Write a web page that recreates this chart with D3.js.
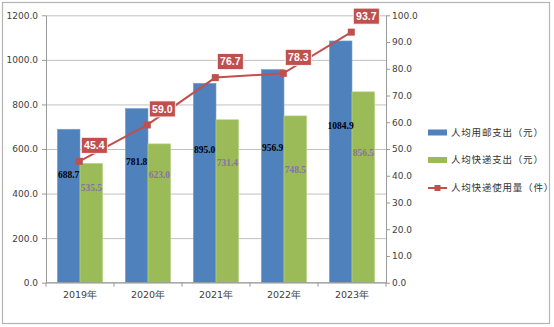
<!DOCTYPE html>
<html>
<head>
<meta charset="utf-8">
<script src="https://cdn.jsdelivr.net/npm/d3@7"></script>
<style>
  body { margin: 0; background: #fff; }
  svg { display: block; }
</style>
</head>
<body>
<svg id="chart" width="554" height="327"></svg>
<script>
// 数据
const years = ["2019年", "2020年", "2021年", "2022年", "2023年"];
const postSpend = [688.7, 781.8, 895.0, 956.9, 1084.9];      // 人均用邮支出（元）
const expressSpend = [535.5, 623.0, 731.4, 748.5, 856.5];   // 人均快递支出（元）
const expressCount = [45.4, 59.0, 76.7, 78.3, 93.7];        // 人均快递使用量（件）
const leftTicks = [0, 200, 400, 600, 800, 1000, 1200];
const rightTicks = [0, 10, 20, 30, 40, 50, 60, 70, 80, 90, 100];
const seriesNames = ["人均用邮支出（元）", "人均快递支出（元）", "人均快递使用量（件）"];

// 柱内数值标签的放置高度（左轴数值）
const postLabelAt = [485, 545, 595, 605, 705];
const expressLabelAt = [425, 485, 540, 505, 585];

const blue = "#4f81bd", green = "#9bbb59", red = "#c0504d";
const axisFont = "DejaVu Sans, sans-serif";

const svg = d3.select("#chart");

// 外框
svg.append("rect")
  .attr("x", 2.5).attr("y", 2.5)
  .attr("width", 547).attr("height", 321)
  .attr("fill", "#fff")
  .attr("stroke", "#b4b4b4")
  .attr("stroke-width", 1.2);

const plotLeft = 46, plotRight = 386, plotTop = 15.3, plotBottom = 282.7;

const x0 = d3.scaleBand().domain(years).range([plotLeft, plotRight]);
const x1 = d3.scaleBand().domain(["post", "express"])
  .range([0, x0.bandwidth()]).paddingOuter(0.5);
const y = d3.scaleLinear().domain([0, 1200]).range([plotBottom, plotTop]);
const y2 = d3.scaleLinear().domain([0, 100]).range([plotBottom, plotTop]);

// 网格线
svg.append("g")
  .attr("transform", `translate(${plotLeft},0)`)
  .call(d3.axisLeft(y).tickValues(leftTicks).tickSize(-(plotRight - plotLeft)).tickFormat(""))
  .call(g => g.select(".domain").remove())
  .call(g => g.selectAll("line").attr("stroke", "#c0c0c0").attr("stroke-width", 1));

// 柱子
const groups = svg.append("g").selectAll("g")
  .data(years)
  .join("g")
  .attr("transform", d => `translate(${x0(d)},0)`);

groups.append("rect")
  .attr("x", x1("post"))
  .attr("width", x1.bandwidth())
  .attr("y", (d, i) => y(postSpend[i]))
  .attr("height", (d, i) => y(0) - y(postSpend[i]))
  .attr("fill", blue)
  .attr("stroke", "#7da2d2").attr("stroke-width", 0.6);

groups.append("rect")
  .attr("x", x1("express"))
  .attr("width", x1.bandwidth())
  .attr("y", (d, i) => y(expressSpend[i]))
  .attr("height", (d, i) => y(0) - y(expressSpend[i]))
  .attr("fill", green)
  .attr("stroke", "#bcd48e").attr("stroke-width", 0.6);

// 柱内数值
groups.append("text")
  .attr("x", x1("post") + x1.bandwidth() / 2)
  .attr("y", (d, i) => y(postLabelAt[i]))
  .attr("dy", "0.35em")
  .attr("text-anchor", "middle")
  .attr("font-family", "Liberation Serif, serif")
  .attr("font-weight", "bold")
  .attr("font-size", 9.5)
  .attr("fill", "#000")
  .text((d, i) => postSpend[i].toFixed(1));

groups.append("text")
  .attr("x", x1("express") + x1.bandwidth() / 2)
  .attr("y", (d, i) => y(expressLabelAt[i]))
  .attr("dy", "0.35em")
  .attr("text-anchor", "middle")
  .attr("font-family", "Liberation Serif, serif")
  .attr("font-weight", "bold")
  .attr("font-size", 9.5)
  .attr("fill", "#8672a6")
  .text((d, i) => expressSpend[i].toFixed(1));

// 坐标轴
function styleAxis(g) {
  g.select(".domain").attr("stroke", "#9a9a9a");
  g.selectAll(".tick line").attr("stroke", "#9a9a9a");
  g.selectAll(".tick text")
    .attr("fill", "#404040")
    .attr("font-family", axisFont)
    .attr("font-size", 9);
}

svg.append("g")
  .attr("transform", `translate(${plotLeft},0)`)
  .call(d3.axisLeft(y).tickValues(leftTicks).tickSize(4).tickSizeOuter(0)
    .tickPadding(4).tickFormat(d3.format(".1f")))
  .call(styleAxis);

svg.append("g")
  .attr("transform", `translate(${plotRight},0)`)
  .call(d3.axisRight(y2).tickValues(rightTicks).tickSize(4).tickSizeOuter(0)
    .tickPadding(2).tickFormat(d3.format(".1f")))
  .call(styleAxis);

// 横轴：刻度在分类边界
const xAxis = svg.append("g").attr("transform", `translate(0,${plotBottom})`);
xAxis.append("line")
  .attr("x1", plotLeft).attr("x2", plotRight)
  .attr("stroke", "#9a9a9a");
xAxis.selectAll(".sep")
  .data(d3.range(years.length + 1))
  .join("line")
  .attr("class", "sep")
  .attr("x1", i => plotLeft + i * x0.step())
  .attr("x2", i => plotLeft + i * x0.step())
  .attr("y1", 0).attr("y2", 4)
  .attr("stroke", "#9a9a9a");
xAxis.selectAll("text")
  .data(years)
  .join("text")
  .attr("x", d => x0(d) + x0.bandwidth() / 2)
  .attr("y", 12)
  .attr("dy", "0.35em")
  .attr("text-anchor", "middle")
  .attr("font-family", axisFont)
  .attr("font-size", 9.5)
  .attr("fill", "#404040")
  .text(d => d);

// 折线
const cx = d => x0(d) + x0.bandwidth() / 2 - 0.7;
const line = d3.line()
  .x((d, i) => cx(years[i]))
  .y(d => y2(d));

svg.append("path")
  .datum(expressCount)
  .attr("d", line)
  .attr("fill", "none")
  .attr("stroke", red)
  .attr("stroke-width", 2);

svg.append("g").selectAll("rect")
  .data(expressCount)
  .join("rect")
  .attr("x", (d, i) => cx(years[i]) - 3.5)
  .attr("y", d => y2(d) - 3.5)
  .attr("width", 7).attr("height", 7)
  .attr("fill", red);

// 折线数值标签
const tags = svg.append("g").selectAll("g")
  .data(expressCount)
  .join("g")
  .attr("transform", (d, i) => `translate(${cx(years[i]) + 15},${y2(d) - 16})`);

tags.append("rect")
  .attr("x", -13).attr("y", -8)
  .attr("width", 26).attr("height", 16)
  .attr("fill", red)
  .attr("stroke", "#fff").attr("stroke-width", 0.8);

tags.append("text")
  .attr("text-anchor", "middle")
  .attr("dy", "0.36em")
  .attr("font-family", "Liberation Sans, Arial, sans-serif")
  .attr("font-weight", "bold")
  .attr("font-size", 10.5)
  .attr("fill", "#fff")
  .text(d => d.toFixed(1));

// 图例
const legend = svg.append("g").attr("transform", "translate(428,0)");
const legendY = [132.5, 160, 188];
const legendColors = [blue, green, red];

seriesNames.forEach((name, i) => {
  const g = legend.append("g").attr("transform", `translate(0,${legendY[i]})`);
  if (i < 2) {
    g.append("rect")
      .attr("x", 0).attr("y", -3)
      .attr("width", 19).attr("height", 6)
      .attr("fill", legendColors[i]);
  } else {
    g.append("line")
      .attr("x1", 0).attr("x2", 19)
      .attr("stroke", red).attr("stroke-width", 2);
    g.append("rect")
      .attr("x", 6.5).attr("y", -3)
      .attr("width", 6).attr("height", 6)
      .attr("fill", red);
  }
  g.append("text")
    .attr("x", 23)
    .attr("dy", "0.35em")
    .attr("font-family", "Noto Sans CJK SC, sans-serif")
    .attr("font-size", 9.5)
    .attr("letter-spacing", 0.8)
    .attr("fill", "#333")
    .text(name);
});
</script>
</body>
</html>
